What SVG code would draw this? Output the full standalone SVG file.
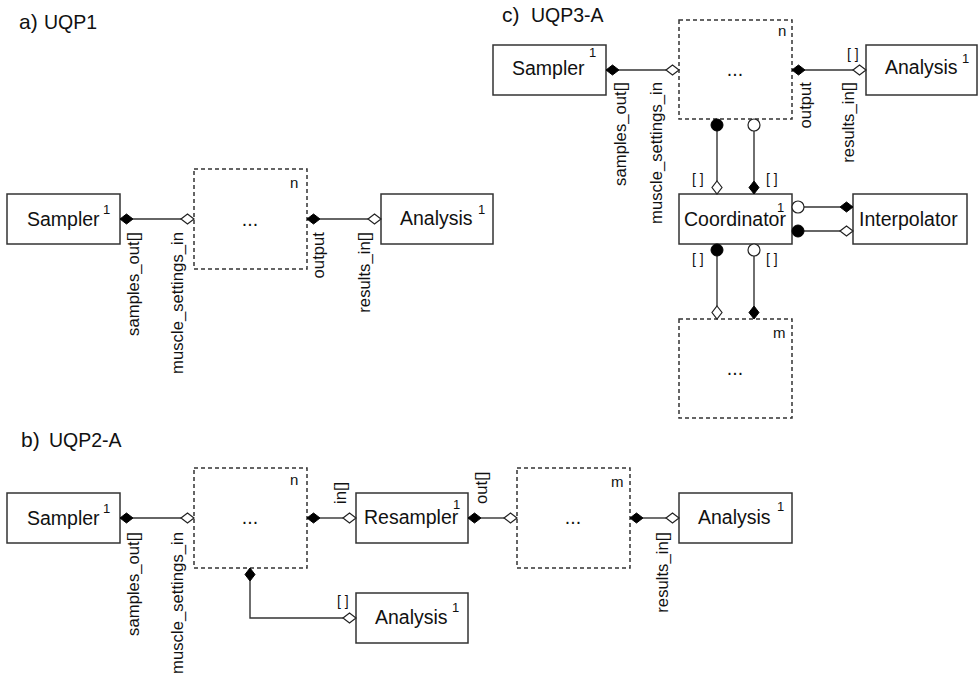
<svg xmlns="http://www.w3.org/2000/svg" xmlns:xlink="http://www.w3.org/1999/xlink" width="978" height="673" viewBox="0 0 978 673">
<style>
text{font-family:"Liberation Sans",Arial,sans-serif;fill:#111}
.box{fill:#fff;stroke:#333;stroke-width:1.5}
.dash{fill:#fff;stroke:#333;stroke-width:1.5;stroke-dasharray:4 3}
.lbl{font-size:19.5px}
.sup{font-size:13px}
.ttl{font-size:19.5px}
.ttp{font-size:21px}
.mul{font-size:15px}
.port{font-size:16.7px}
.br{font-size:14px}
.ln{fill:none;stroke:#333;stroke-width:1.4}
.fd{fill:#000;stroke:#000;stroke-width:1}
.hd{fill:#fff;stroke:#222;stroke-width:1.2}
</style>
<defs>
<path id="dh" d="M-6.5,0 L0,-5 L6.5,0 L0,5 Z"/>
<path id="dv" d="M0,-6.5 L5,0 L0,6.5 L-5,0 Z"/>
</defs>

<!-- titles -->
<g id="titles">
<text class="ttp" x="19" y="29">a)</text><text class="ttl" x="44" y="29">UQP1</text>
<text class="ttp" x="21" y="447">b)</text><text class="ttl" x="49" y="447">UQP2-A</text>
<text class="ttp" x="502" y="22">c)</text><text class="ttl" x="531" y="22">UQP3-A</text>
</g>

<!-- ===== Panel a ===== -->
<g id="a-sampler">
<rect class="box" x="7" y="194" width="113" height="50"/>
<text class="lbl" x="27" y="226">Sampler</text>
<text class="sup" x="103" y="214">1</text>
</g>
<g id="a-sub">
<rect class="dash" x="194" y="169" width="113" height="100"/>
<text class="mul" x="290" y="188">n</text>
<text class="lbl" x="250" y="226" text-anchor="middle">...</text>
</g>
<g id="a-analysis">
<rect class="box" x="381" y="194" width="112" height="50"/>
<text class="lbl" x="400" y="225">Analysis</text>
<text class="sup" x="478" y="214">1</text>
</g>

<!-- ===== Panel b ===== -->
<g id="b-sampler">
<rect class="box" x="7" y="493" width="113" height="50"/>
<text class="lbl" x="27" y="525">Sampler</text>
<text class="sup" x="103" y="513">1</text>
</g>
<g id="b-sub-n">
<rect class="dash" x="194" y="468" width="113" height="100"/>
<text class="mul" x="290" y="485">n</text>
<text class="lbl" x="250" y="524" text-anchor="middle">...</text>
</g>
<g id="b-resampler">
<rect class="box" x="356" y="493" width="112" height="50"/>
<text class="lbl" x="364" y="524">Resampler</text>
<text class="sup" x="453" y="509">1</text>
</g>
<g id="b-sub-m">
<rect class="dash" x="517" y="468" width="113" height="100"/>
<text class="mul" x="611" y="487">m</text>
<text class="lbl" x="573" y="524" text-anchor="middle">...</text>
</g>
<g id="b-analysis2">
<rect class="box" x="679" y="493" width="113" height="50"/>
<text class="lbl" x="698" y="524">Analysis</text>
<text class="sup" x="777" y="511">1</text>
</g>
<g id="b-analysis1">
<rect class="box" x="356" y="593" width="112" height="50"/>
<text class="lbl" x="375" y="624">Analysis</text>
<text class="sup" x="452" y="612">1</text>
</g>

<!-- ===== Panel c ===== -->
<g id="c-sampler">
<rect class="box" x="493" y="45" width="113" height="50"/>
<text class="lbl" x="512" y="75">Sampler</text>
<text class="sup" x="589" y="57">1</text>
</g>
<g id="c-sub-n">
<rect class="dash" x="679" y="20" width="113" height="99"/>
<text class="mul" x="778" y="36">n</text>
<text class="lbl" x="735" y="76" text-anchor="middle">...</text>
</g>
<g id="c-analysis">
<rect class="box" x="866" y="45" width="111" height="50"/>
<text class="lbl" x="885" y="74">Analysis</text>
<text class="sup" x="962" y="63">1</text>
</g>
<g id="c-coordinator">
<rect class="box" x="679" y="194" width="113" height="50"/>
<text class="lbl" x="684" y="226">Coordinator</text>
<text class="sup" x="777" y="212">1</text>
</g>
<g id="c-interpolator">
<rect class="box" x="853" y="194" width="114" height="50"/>
<text class="lbl" x="859" y="226">Interpolator</text>
</g>
<g id="c-sub-m">
<rect class="dash" x="679" y="319" width="113" height="99"/>
<text class="mul" x="773" y="338">m</text>
<text class="lbl" x="735" y="375" text-anchor="middle">...</text>
</g>

<!-- ===== connectors ===== -->
<g id="connectors">
<!-- a -->
<line class="ln" x1="133" y1="219" x2="181" y2="219"/>
<use href="#dh" class="fd" x="126.5" y="219"/>
<use href="#dh" class="hd" x="187.5" y="219"/>
<line class="ln" x1="320" y1="219" x2="368" y2="219"/>
<use href="#dh" class="fd" x="313.5" y="219"/>
<use href="#dh" class="hd" x="374.5" y="219"/>

<!-- b -->
<line class="ln" x1="133" y1="518" x2="181" y2="518"/>
<use href="#dh" class="fd" x="126.5" y="518"/>
<use href="#dh" class="hd" x="187.5" y="518"/>
<line class="ln" x1="320" y1="518" x2="343" y2="518"/>
<use href="#dh" class="fd" x="313.5" y="518"/>
<use href="#dh" class="hd" x="349.5" y="518"/>
<line class="ln" x1="481" y1="518" x2="504" y2="518"/>
<use href="#dh" class="fd" x="474.5" y="518"/>
<use href="#dh" class="hd" x="510.5" y="518"/>
<line class="ln" x1="643" y1="518" x2="666" y2="518"/>
<use href="#dh" class="fd" x="636.5" y="518"/>
<use href="#dh" class="hd" x="672.5" y="518"/>
<polyline class="ln" points="250,581 250,618 343,618"/>
<use href="#dv" class="fd" x="250" y="574.5"/>
<use href="#dh" class="hd" x="349.5" y="618"/>

<!-- c -->
<line class="ln" x1="619" y1="70" x2="666" y2="70"/>
<use href="#dh" class="fd" x="612.5" y="70"/>
<use href="#dh" class="hd" x="672.5" y="70"/>
<line class="ln" x1="805" y1="70" x2="853" y2="70"/>
<use href="#dh" class="fd" x="798.5" y="70"/>
<use href="#dh" class="hd" x="859.5" y="70"/>

<line class="ln" x1="717" y1="131" x2="717" y2="181"/>
<circle class="fd" cx="717" cy="125" r="6"/>
<use href="#dv" class="hd" x="717" y="187.5"/>
<line class="ln" x1="754" y1="131" x2="754" y2="181"/>
<circle class="hd" cx="754" cy="125" r="6"/>
<use href="#dv" class="fd" x="754" y="187.5"/>

<line class="ln" x1="804" y1="207" x2="840" y2="207"/>
<circle class="hd" cx="798" cy="207" r="6"/>
<use href="#dh" class="fd" x="846.5" y="207"/>
<line class="ln" x1="804" y1="231" x2="840" y2="231"/>
<circle class="fd" cx="798" cy="231" r="6"/>
<use href="#dh" class="hd" x="846.5" y="231"/>

<line class="ln" x1="717" y1="256" x2="717" y2="306"/>
<circle class="fd" cx="717" cy="250" r="6"/>
<use href="#dv" class="hd" x="717" y="312.5"/>
<line class="ln" x1="754" y1="256" x2="754" y2="306"/>
<circle class="hd" cx="754" cy="250" r="6"/>
<use href="#dv" class="fd" x="754" y="312.5"/>
</g>

<!-- port labels -->
<g id="port-labels">
<text class="port" transform="translate(139,232) rotate(-90)" text-anchor="end">samples_out[]</text>
<text class="port" transform="translate(183,232) rotate(-90)" text-anchor="end">muscle_settings_in</text>
<text class="port" transform="translate(323.5,232) rotate(-90)" text-anchor="end">output</text>
<text class="port" transform="translate(369.5,232) rotate(-90)" text-anchor="end">results_in[]</text>

<text class="port" transform="translate(139,532) rotate(-90)" text-anchor="end">samples_out[]</text>
<text class="port" transform="translate(183,532) rotate(-90)" text-anchor="end">muscle_settings_in</text>
<text class="port" transform="translate(346,504) rotate(-90)">in[]</text>
<text class="port" transform="translate(486.5,504) rotate(-90)">out[]</text>
<text class="port" transform="translate(668,532) rotate(-90)" text-anchor="end">results_in[]</text>
<text class="br" x="337" y="606">[ ]</text>

<text class="port" transform="translate(625.5,82) rotate(-90)" text-anchor="end">samples_out[]</text>
<text class="port" transform="translate(661.5,82) rotate(-90)" text-anchor="end">muscle_settings_in</text>
<text class="port" transform="translate(810.5,82) rotate(-90)" text-anchor="end">output</text>
<text class="port" transform="translate(853.5,82) rotate(-90)" text-anchor="end">results_in[]</text>
<text class="br" x="847" y="59">[ ]</text>
<text class="br" x="692" y="184">[ ]</text>
<text class="br" x="766" y="184">[ ]</text>
<text class="br" x="692" y="264">[ ]</text>
<text class="br" x="766" y="264">[ ]</text>
</g>
</svg>
